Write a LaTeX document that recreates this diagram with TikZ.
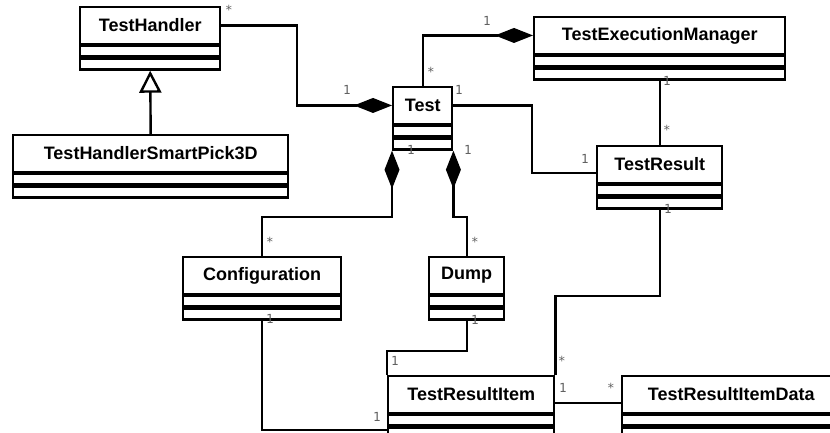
\documentclass[tikz,border=0pt]{standalone}
\usepackage{fontspec}
\setmainfont{Liberation Sans}
\newfontfamily\multfont{DejaVu Sans Mono}
\usetikzlibrary{arrows.meta,calc}
\tikzset{
  clsname/.style={draw, fill=white, inner sep=0pt, minimum height=36.5pt,
    font=\fontsize{18}{20}\selectfont\bfseries, line width=2.4pt},
  clscomp/.style={draw, fill=white, inner sep=0pt, minimum height=10.5pt, line width=2.4pt},
  link/.style={line width=2.4pt, line join=miter},
  compo/.style={link, {Diamond[fill=black, length=38pt, width=15pt]}-},
  gen/.style={link, -{Triangle[open, fill=white, length=22pt, width=22pt]}},
  mult/.style={font=\multfont\fontsize{12.5}{14}\selectfont, text=black!62, inner sep=0pt},
}
\newcommand{\umlclass}[5]{%
  \node[clsname, minimum width=#4pt, anchor=north west] (#1) at (#2,#3) {#5};
  \node[clscomp, minimum width=#4pt, anchor=north west] (#1a) at (#1.south west) {};
  \node[clscomp, minimum width=#4pt, anchor=north west] (#1o) at (#1a.south west) {};
}
\begin{document}
\begin{tikzpicture}[x=1pt, y=-1pt]
\useasboundingbox (0,0) rectangle (830,432);
\fill[white] (0,0) rectangle (830,432);
\clip (0,0) rectangle (830,432);

% classes
\umlclass{TH}{79}{6}{140}{TestHandler}
\umlclass{SP}{12}{134}{275}{TestHandlerSmartPick3D}
\umlclass{Test}{392}{86}{59}{Test}
\umlclass{TEM}{533}{16}{251}{TestExecutionManager}
\umlclass{TR}{596}{145}{125}{TestResult}
\umlclass{Cfg}{182}{256}{158}{Configuration}
\umlclass{Dump}{428}{256}{75}{Dump}
\umlclass{TRI}{387}{375}{166}{TestResultItem}
\umlclass{TRID}{621}{375}{218}{TestResultItemData}

% helper coordinates
\coordinate (bend1) at (297,0);
\coordinate (bend3) at (532,0);
\coordinate (TRin) at ($(TR.north west)+(0,28)$);
\coordinate (TRIin) at ($(TRI.north west)+(0,55)$);
\coordinate (TRIout) at ($(TRI.north east)+(0,28)$);
\coordinate (TRIDin) at ($(TRID.north west)+(0,28)$);

% connectors
\draw[gen] (SP.north) -- (THo.south);
\draw[compo] (Test.west) -- (Test.west -| bend1) |- (TH.east);
\draw[compo] (TEM.west) -| (Test.north);
\draw[link] (Test.east) -- (Test.east -| bend3) |- (TRin);
\draw[link] (TEMo.south) -- (TR.north);
\draw[link] (TRo.south) -- ++(0,86) -| (TRI.north east);
\draw[compo] (Testo.south west) -- ++(0,66) -| (Cfg.north);
\draw[compo] (Testo.south east) -- ++(0,66) -| (Dump.north);
\draw[link] (Dumpo.south) -- ++(0,30) -| (TRI.north west);
\draw[link] (Cfgo.south) |- (TRIin);
\draw[link] (TRIout) -- (TRIDin);

% multiplicities
\node[mult] (m1) at (229,10) {*};
\node[mult] (m2) at (347,90) {1};
\node[mult] (m3) at (487,21) {1};
\node[mult] (m4) at (431,72) {*};
\node[mult] (m5) at (459,90) {1};
\node[mult] (m6) at (411,150) {1};
\node[mult] (m7) at (468,150) {1};
\node[mult] (m8) at (667,81) {1};
\node[mult] (m9) at (667,130) {*};
\node[mult] (m10) at (585,159) {1};
\node[mult] (m11) at (668,209) {1};
\node[mult] (m12) at (270,242) {*};
\node[mult] (m13) at (475,242) {*};
\node[mult] (m14) at (270,319) {1};
\node[mult] (m15) at (475,320) {1};
\node[mult] (m16) at (395,361) {1};
\node[mult] (m17) at (562,361) {*};
\node[mult] (m18) at (563,388) {1};
\node[mult] (m19) at (611,388) {*};
\node[mult] (m20) at (377,417) {1};
\end{tikzpicture}
\end{document}
